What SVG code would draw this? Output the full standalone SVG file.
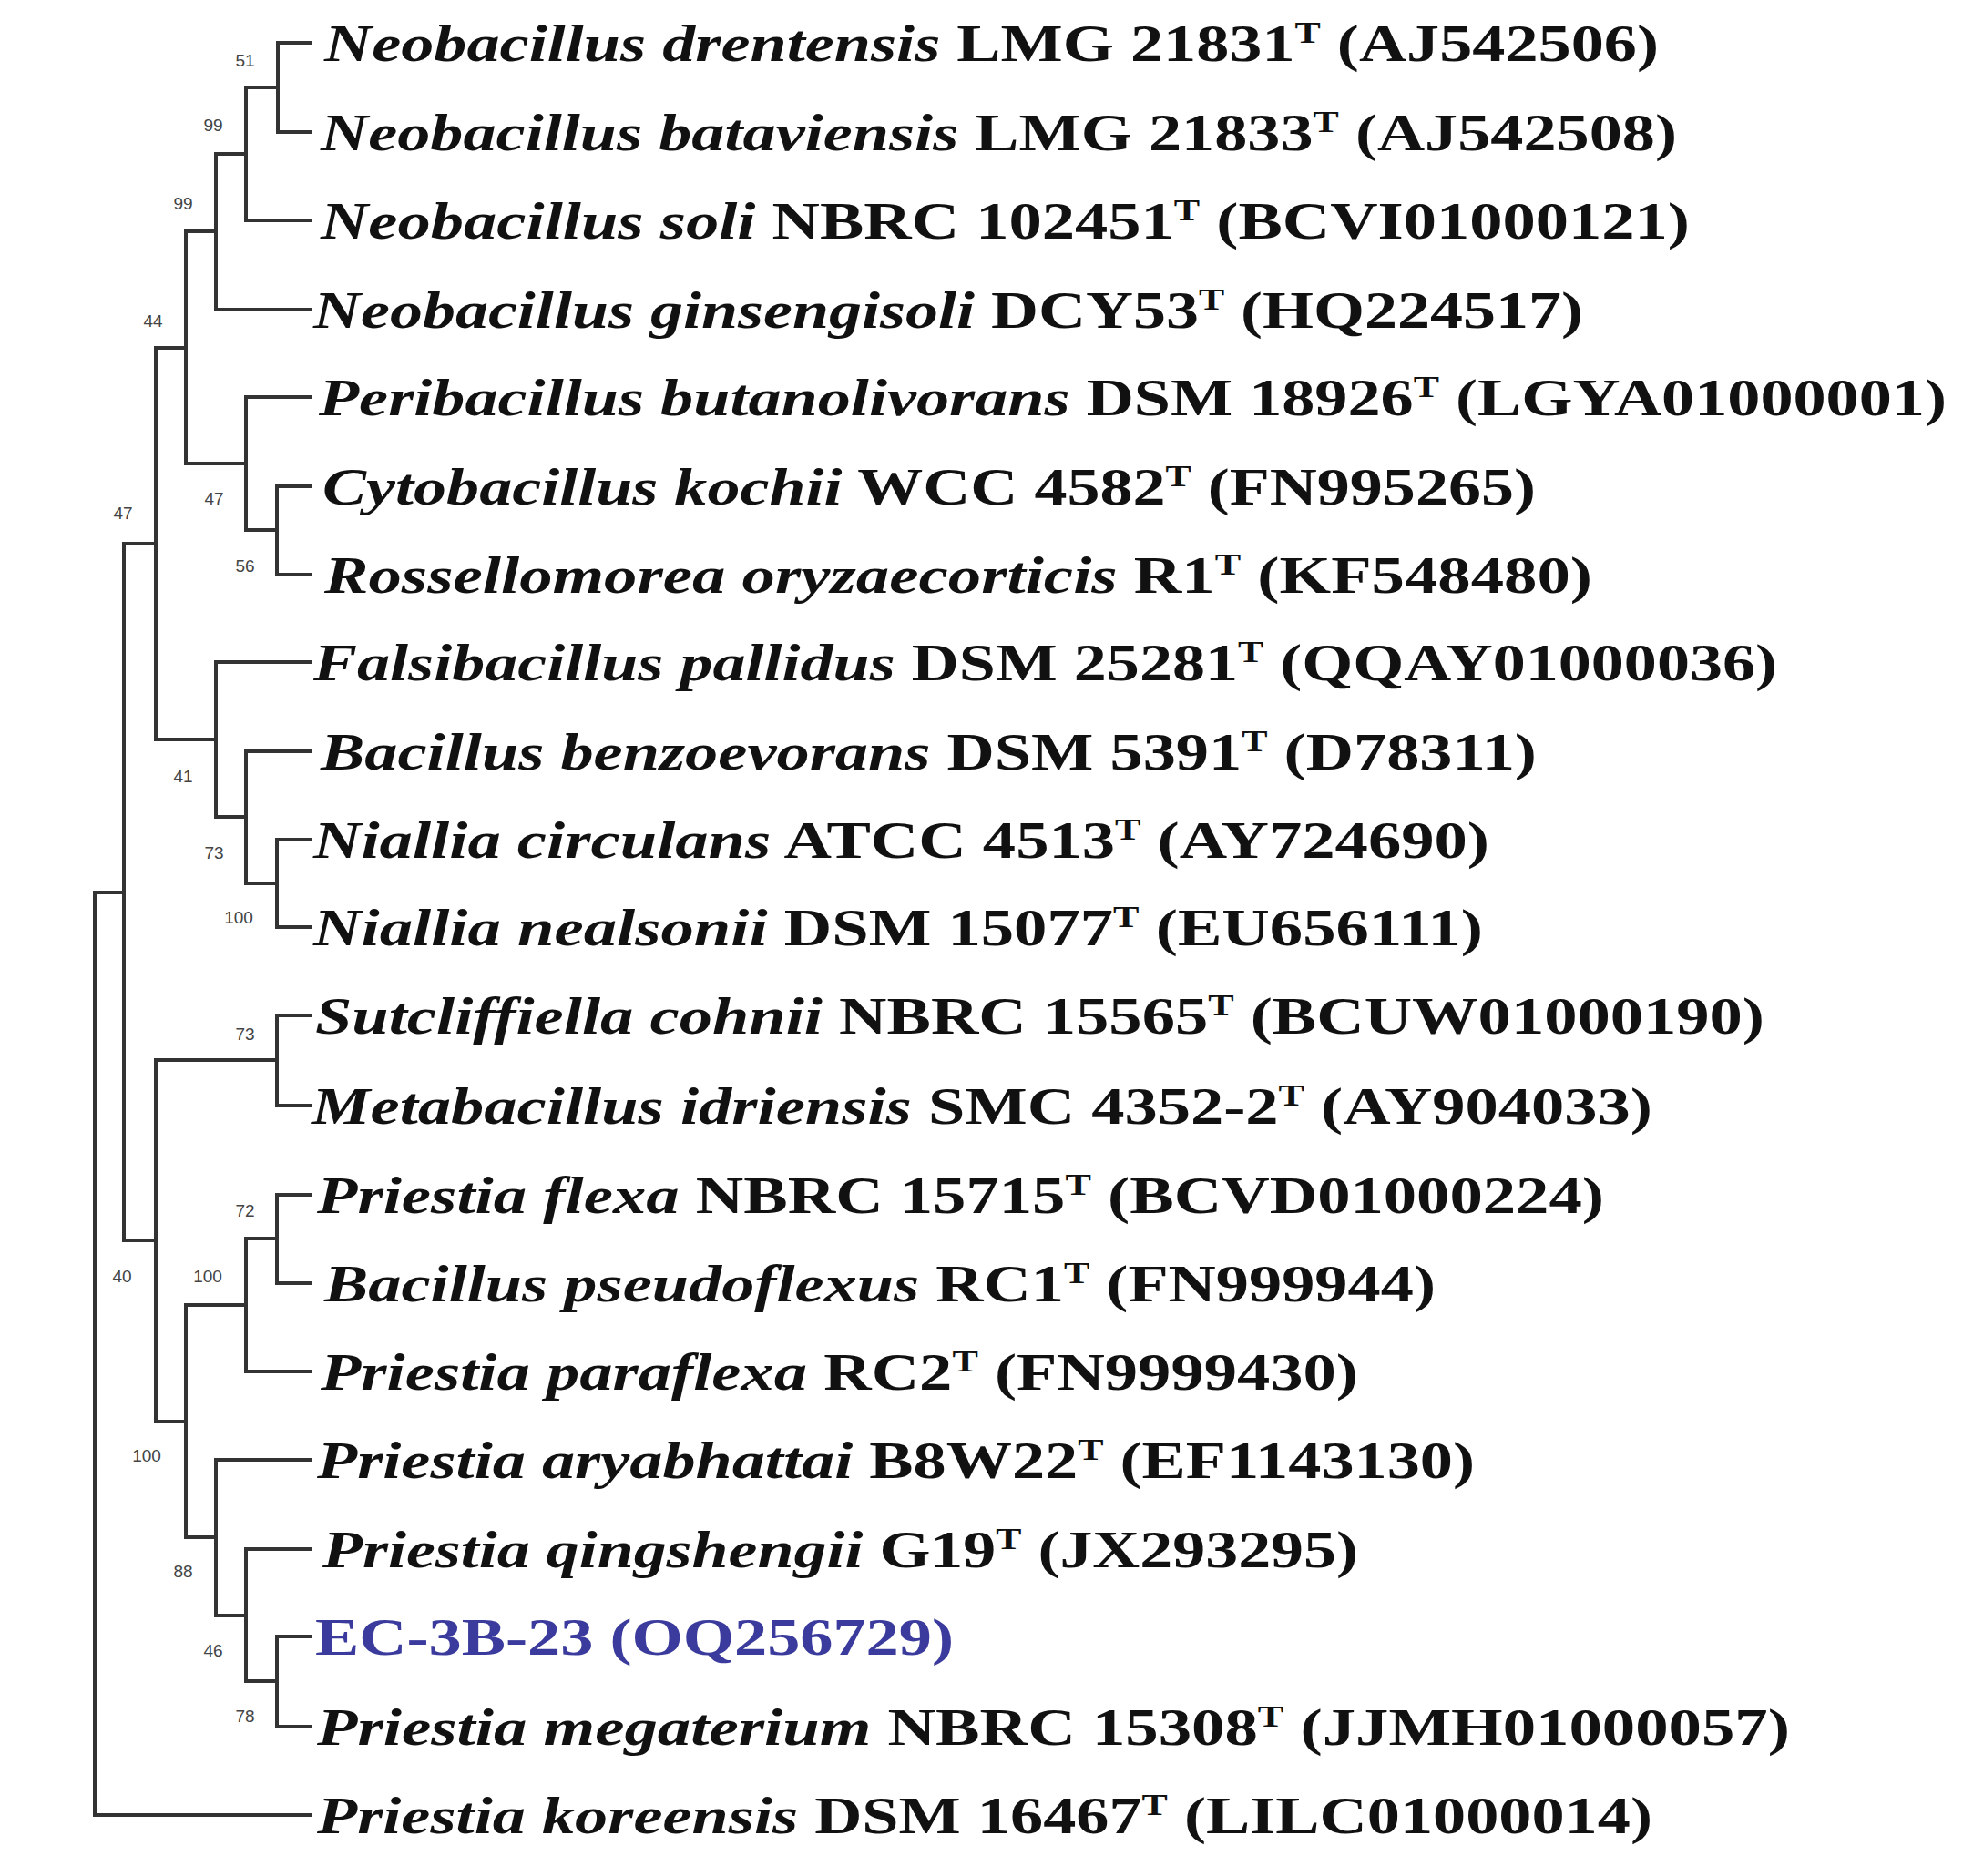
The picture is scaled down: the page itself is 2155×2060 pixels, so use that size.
<svg xmlns="http://www.w3.org/2000/svg" width="2155" height="2060" viewBox="0 0 2155 2060">
<style>
.br{fill:none;stroke:#333;stroke-width:4;stroke-linecap:square}
.bs{font-family:"Liberation Sans",Arial,sans-serif;font-size:19px;fill:#444;text-anchor:middle}
.lf{font-family:"Liberation Serif","Times New Roman",serif;font-size:58px;font-weight:bold;fill:#111}
.it{font-style:italic}
.sup{font-size:34px}
.ec{fill:#3b3b9e}
</style>
<rect width="2155" height="2060" fill="#fff"/>
<g id="connectors">
<path class="br" d="M341 47H305V145H341"/>
<path class="br" d="M305 96H270V242H341"/>
<path class="br" d="M270 169H237V340H341"/>
<path class="br" d="M341 534H304V631H341"/>
<path class="br" d="M341 436H270V582H304"/>
<path class="br" d="M237 254H204V509H270"/>
<path class="br" d="M341 922H304V1018H341"/>
<path class="br" d="M341 825H270V970H304"/>
<path class="br" d="M341 727H237V897H270"/>
<path class="br" d="M204 382H171V812H237"/>
<path class="br" d="M341 1115H304V1214H341"/>
<path class="br" d="M341 1312H304V1409H341"/>
<path class="br" d="M304 1360H270V1506H341"/>
<path class="br" d="M341 1797H304V1896H341"/>
<path class="br" d="M341 1701H270V1846H304"/>
<path class="br" d="M341 1603H237V1774H270"/>
<path class="br" d="M270 1433H204V1688H237"/>
<path class="br" d="M304 1164H171V1561H204"/>
<path class="br" d="M171 597H136V1362H171"/>
<path class="br" d="M136 980H104V1993H341"/>
</g>
<g id="bootstrap">
<text class="bs" x="269" y="73">51</text>
<text class="bs" x="234" y="144">99</text>
<text class="bs" x="201" y="230">99</text>
<text class="bs" x="168" y="359">44</text>
<text class="bs" x="135" y="570">47</text>
<text class="bs" x="235" y="554">47</text>
<text class="bs" x="269" y="628">56</text>
<text class="bs" x="201" y="859">41</text>
<text class="bs" x="235" y="943">73</text>
<text class="bs" x="262" y="1014">100</text>
<text class="bs" x="269" y="1142">73</text>
<text class="bs" x="269" y="1336">72</text>
<text class="bs" x="134" y="1408">40</text>
<text class="bs" x="228" y="1408">100</text>
<text class="bs" x="161" y="1605">100</text>
<text class="bs" x="201" y="1732">88</text>
<text class="bs" x="234" y="1819">46</text>
<text class="bs" x="269" y="1891">78</text>
</g>
<g id="leaf1"><text class="lf" x="356" y="67" textLength="1465" lengthAdjust="spacingAndGlyphs"><tspan class="it">Neobacillus drentensis</tspan> LMG 21831<tspan class="sup" dy="-20">T</tspan><tspan dy="20"> (AJ542506)</tspan></text></g>
<g id="leaf2"><text class="lf" x="352" y="165" textLength="1489" lengthAdjust="spacingAndGlyphs"><tspan class="it">Neobacillus bataviensis</tspan> LMG 21833<tspan class="sup" dy="-20">T</tspan><tspan dy="20"> (AJ542508)</tspan></text></g>
<g id="leaf3"><text class="lf" x="352" y="262" textLength="1503" lengthAdjust="spacingAndGlyphs"><tspan class="it">Neobacillus soli</tspan> NBRC 102451<tspan class="sup" dy="-20">T</tspan><tspan dy="20"> (BCVI01000121)</tspan></text></g>
<g id="leaf4"><text class="lf" x="344" y="360" textLength="1394" lengthAdjust="spacingAndGlyphs"><tspan class="it">Neobacillus ginsengisoli</tspan> DCY53<tspan class="sup" dy="-20">T</tspan><tspan dy="20"> (HQ224517)</tspan></text></g>
<g id="leaf5"><text class="lf" x="350" y="456" textLength="1787" lengthAdjust="spacingAndGlyphs"><tspan class="it">Peribacillus butanolivorans</tspan> DSM 18926<tspan class="sup" dy="-20">T</tspan><tspan dy="20"> (LGYA01000001)</tspan></text></g>
<g id="leaf6"><text class="lf" x="354" y="554" textLength="1332" lengthAdjust="spacingAndGlyphs"><tspan class="it">Cytobacillus kochii</tspan> WCC 4582<tspan class="sup" dy="-20">T</tspan><tspan dy="20"> (FN995265)</tspan></text></g>
<g id="leaf7"><text class="lf" x="356" y="651" textLength="1392" lengthAdjust="spacingAndGlyphs"><tspan class="it">Rossellomorea oryzaecorticis</tspan> R1<tspan class="sup" dy="-20">T</tspan><tspan dy="20"> (KF548480)</tspan></text></g>
<g id="leaf8"><text class="lf" x="344" y="747" textLength="1607" lengthAdjust="spacingAndGlyphs"><tspan class="it">Falsibacillus pallidus</tspan> DSM 25281<tspan class="sup" dy="-20">T</tspan><tspan dy="20"> (QQAY01000036)</tspan></text></g>
<g id="leaf9"><text class="lf" x="352" y="845" textLength="1335" lengthAdjust="spacingAndGlyphs"><tspan class="it">Bacillus benzoevorans</tspan> DSM 5391<tspan class="sup" dy="-20">T</tspan><tspan dy="20"> (D78311)</tspan></text></g>
<g id="leaf10"><text class="lf" x="344" y="942" textLength="1291" lengthAdjust="spacingAndGlyphs"><tspan class="it">Niallia circulans</tspan> ATCC 4513<tspan class="sup" dy="-20">T</tspan><tspan dy="20"> (AY724690)</tspan></text></g>
<g id="leaf11"><text class="lf" x="344" y="1038" textLength="1284" lengthAdjust="spacingAndGlyphs"><tspan class="it">Niallia nealsonii</tspan> DSM 15077<tspan class="sup" dy="-20">T</tspan><tspan dy="20"> (EU656111)</tspan></text></g>
<g id="leaf12"><text class="lf" x="346" y="1135" textLength="1591" lengthAdjust="spacingAndGlyphs"><tspan class="it">Sutcliffiella cohnii</tspan> NBRC 15565<tspan class="sup" dy="-20">T</tspan><tspan dy="20"> (BCUW01000190)</tspan></text></g>
<g id="leaf13"><text class="lf" x="342" y="1234" textLength="1472" lengthAdjust="spacingAndGlyphs"><tspan class="it">Metabacillus idriensis</tspan> SMC 4352-2<tspan class="sup" dy="-20">T</tspan><tspan dy="20"> (AY904033)</tspan></text></g>
<g id="leaf14"><text class="lf" x="348" y="1332" textLength="1413" lengthAdjust="spacingAndGlyphs"><tspan class="it">Priestia flexa</tspan> NBRC 15715<tspan class="sup" dy="-20">T</tspan><tspan dy="20"> (BCVD01000224)</tspan></text></g>
<g id="leaf15"><text class="lf" x="356" y="1429" textLength="1220" lengthAdjust="spacingAndGlyphs"><tspan class="it">Bacillus pseudoflexus</tspan> RC1<tspan class="sup" dy="-20">T</tspan><tspan dy="20"> (FN999944)</tspan></text></g>
<g id="leaf16"><text class="lf" x="352" y="1526" textLength="1139" lengthAdjust="spacingAndGlyphs"><tspan class="it">Priestia paraflexa</tspan> RC2<tspan class="sup" dy="-20">T</tspan><tspan dy="20"> (FN9999430)</tspan></text></g>
<g id="leaf17"><text class="lf" x="348" y="1623" textLength="1271" lengthAdjust="spacingAndGlyphs"><tspan class="it">Priestia aryabhattai</tspan> B8W22<tspan class="sup" dy="-20">T</tspan><tspan dy="20"> (EF1143130)</tspan></text></g>
<g id="leaf18"><text class="lf" x="354" y="1721" textLength="1137" lengthAdjust="spacingAndGlyphs"><tspan class="it">Priestia qingshengii</tspan> G19<tspan class="sup" dy="-20">T</tspan><tspan dy="20"> (JX293295)</tspan></text></g>
<g id="leaf19"><text class="lf ec" x="346" y="1817" textLength="701" lengthAdjust="spacingAndGlyphs">EC-3B-23 (OQ256729)</text></g>
<g id="leaf20"><text class="lf" x="348" y="1916" textLength="1617" lengthAdjust="spacingAndGlyphs"><tspan class="it">Priestia megaterium</tspan> NBRC 15308<tspan class="sup" dy="-20">T</tspan><tspan dy="20"> (JJMH01000057)</tspan></text></g>
<g id="leaf21"><text class="lf" x="348" y="2013" textLength="1466" lengthAdjust="spacingAndGlyphs"><tspan class="it">Priestia koreensis</tspan> DSM 16467<tspan class="sup" dy="-20">T</tspan><tspan dy="20"> (LILC01000014)</tspan></text></g>
</svg>
